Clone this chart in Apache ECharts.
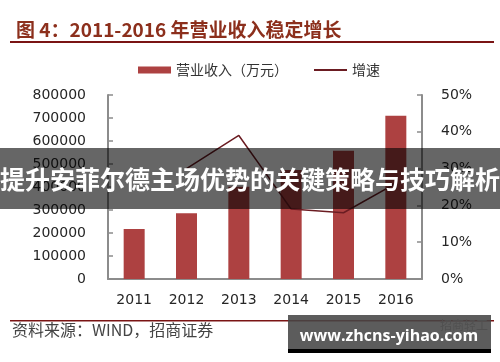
<!DOCTYPE html>
<html>
<head>
<meta charset="utf-8">
<script src="https://cdn.jsdelivr.net/npm/echarts@6/dist/echarts.min.js"></script>
<style>html,body{margin:0;padding:0;background:#fff;}#c{width:500px;height:362px;}</style>
</head>
<body>
<div id="c"></div>
<script>
var categories = ['2011', '2012', '2013', '2014', '2015', '2016'];
var revenue = [217000, 286000, 401000, 474000, 558000, 710000];
var growth = [null, 0.30, 0.39, 0.19, 0.18, 0.26];
var leftTicks = { min: 0, max: 800000, interval: 100000 };
var rightTicks = { min: 0, max: 0.5, interval: 0.1 };

var chart = echarts.init(document.getElementById('c'), null, { renderer: 'canvas' });
var axisColor = '#8c8c8c';
var labelFont = { color: '#262626', fontSize: 14, fontFamily: 'DejaVu Sans' };
chart.setOption({
  backgroundColor: '#ffffff',
  animation: false,
  title: {
    text: '图 4：2011-2016 年营业收入稳定增长',
    left: 11, top: 15,
    textStyle: { color: '#8c2f1c', fontSize: 19, fontWeight: 'bold', fontFamily: 'Noto Sans CJK SC' }
  },
  legend: {
    left: 133, top: 58,
    itemWidth: 33, itemHeight: 7, itemGap: 25,
    textStyle: { color: '#333', fontSize: 14, fontFamily: 'Noto Sans CJK SC' },
    data: [
      { name: '营业收入（万元）', icon: 'rect' },
      { name: '增速', itemStyle: { color: 'rgba(0,0,0,0)', borderWidth: 0, opacity: 0 } }
    ]
  },
  grid: { left: 108, right: 78, top: 95, bottom: 83, containLabel: false },
  xAxis: {
    type: 'category', data: categories,
    axisLine: { lineStyle: { color: axisColor, width: 2 } },
    axisTick: { inside: true, length: 5, lineStyle: { color: axisColor, width: 1.5 } },
    axisLabel: Object.assign({ margin: 14 }, labelFont)
  },
  yAxis: [{
    type: 'value', min: leftTicks.min, max: leftTicks.max, interval: leftTicks.interval,
    axisLine: { show: true, lineStyle: { color: axisColor, width: 2 } },
    axisTick: { show: true, inside: true, length: 5, lineStyle: { color: axisColor, width: 1.5 } },
    splitLine: { show: false },
    axisLabel: Object.assign({ margin: 22, formatter: function (v) { return String(v); } }, labelFont)
  }, {
    type: 'value', min: rightTicks.min, max: rightTicks.max, interval: rightTicks.interval,
    position: 'right',
    axisLine: { show: true, lineStyle: { color: axisColor, width: 2 } },
    axisTick: { show: true, inside: true, length: 5, lineStyle: { color: axisColor, width: 1.5 } },
    splitLine: { show: false },
    axisLabel: Object.assign({ margin: 19, formatter: function (v) { return Math.round(v * 100) + '%'; } }, labelFont)
  }],
  series: [{
    name: '营业收入（万元）', type: 'bar', data: revenue, barWidth: 21,
    itemStyle: { color: '#ad4141' }
  }, {
    name: '增速', type: 'line', yAxisIndex: 1, data: growth,
    symbol: 'none', connectNulls: false,
    lineStyle: { color: '#6b1c22', width: 1.5 },
    itemStyle: { color: '#6b1c22' }
  }],
  graphic: [
    { type: 'rect', shape: { x: 10, y: 41, width: 484, height: 2 }, style: { fill: '#7a1414' } },
    { type: 'rect', shape: { x: 10, y: 320, width: 484, height: 1.5 }, style: { fill: '#7a1414' } },
    { type: 'text', left: 12, top: 322, style: { text: '资料来源：WIND，招商证券', fill: '#444', font: '16px "Noto Sans CJK SC"' } },
    { type: 'rect', shape: { x: 0, y: 148, width: 500, height: 61 }, style: { fill: 'rgba(0,0,0,0.6)' }, z: 100 },
    { type: 'text', x: 250, y: 179, z: 101, style: { text: '提升安菲尔德主场优势的关键策略与技巧解析', fill: '#fff', font: 'bold 25px "Noto Sans CJK SC"', align: 'center', verticalAlign: 'middle' } },
    { type: 'text', x: 488, y: 325, z: 99, style: { text: '招商轻工', fill: '#999', font: '12px "Noto Sans CJK SC"', align: 'right', verticalAlign: 'middle' } },
    { type: 'rect', shape: { x: 288, y: 315, width: 203, height: 35 }, style: { fill: 'rgba(70,70,70,0.88)' }, z: 100 },
    { type: 'rect', shape: { x: 288, y: 349, width: 203, height: 4 }, style: { fill: '#000' }, z: 100 },
    { type: 'text', x: 389, y: 336, z: 101, style: { text: 'www.zhcns-yihao.com', fill: '#fff', font: 'bold 16px "Open Sans"', align: 'center', verticalAlign: 'middle' } }
  ]
});
</script>
</body>
</html>
